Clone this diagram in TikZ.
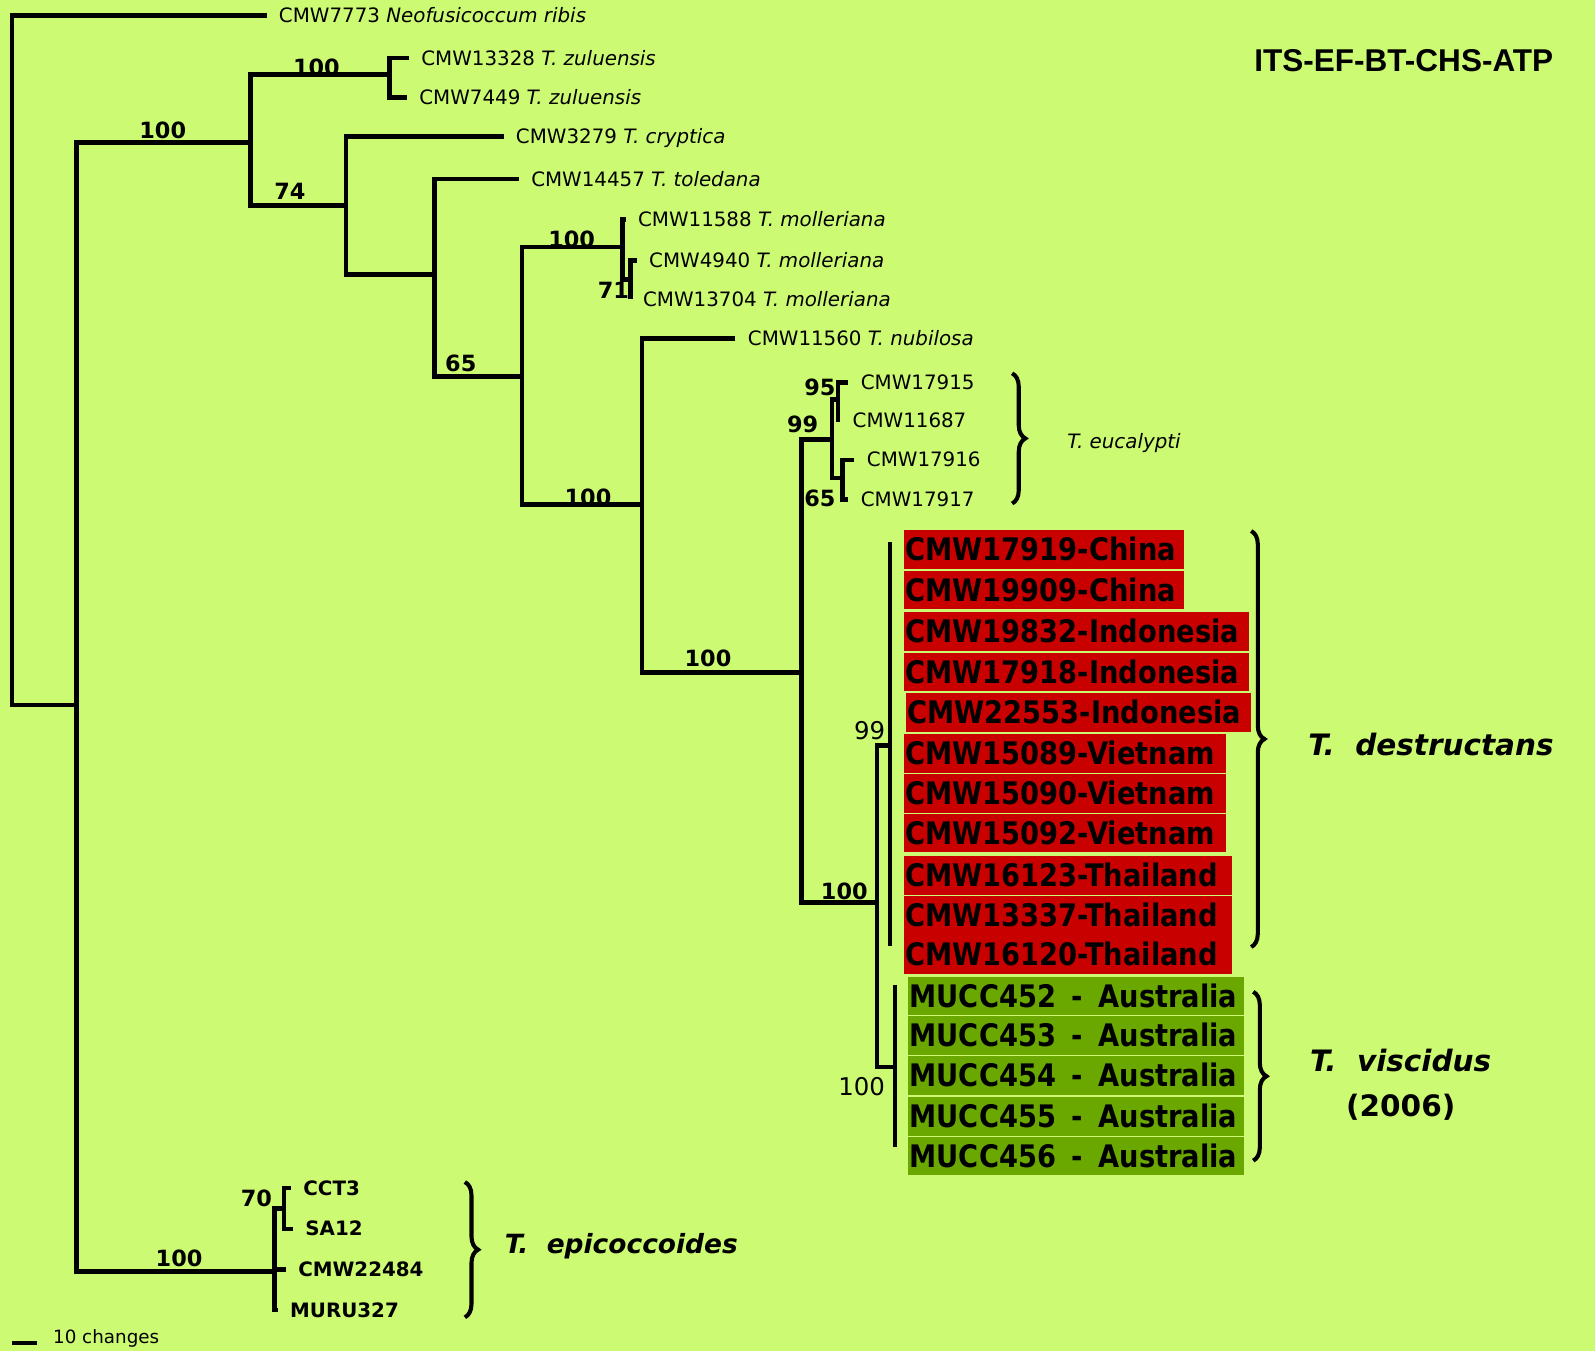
\documentclass[tikz,border=0pt]{standalone}
\usepackage{fontspec}
\setmainfont{DejaVu Sans}
\newfontfamily\ttlfont{Liberation Sans}
\newfontfamily\boxfamily[FakeStretch=0.88]{DejaVu Sans}
\usetikzlibrary{decorations.pathreplacing}
\definecolor{bgGreen}{RGB}{205,250,115}
\definecolor{destRed}{RGB}{200,0,0}
\definecolor{viscGreen}{RGB}{106,168,0}
\newcommand{\leaffont}{\fontsize{19.5}{20}\selectfont}
\newcommand{\boxfont}{\boxfamily\fontsize{30.5}{31}\selectfont\bfseries}

\begin{document}
\begin{tikzpicture}[x=1pt, y=-1pt, line width=4.5pt,
  leaf/.style={anchor=west, inner xsep=10pt, inner ysep=0pt, font=\leaffont, text height=14pt, text depth=0pt},
  epileaf/.style={leaf, font=\leaffont\bfseries},
  bs/.style={inner sep=0pt, font=\fontsize{22}{22}\selectfont\bfseries},
  bsthin/.style={inner sep=0pt, font=\fontsize{24}{24}\selectfont},
  desbox/.style={anchor=west, fill=destRed, inner xsep=2pt, inner ysep=0pt, minimum height=38pt, text width=#1, align=left, font=\boxfont, text height=22pt, text depth=0pt},
  visbox/.style={desbox=#1, fill=viscGreen},
  brc/.style={decorate, decoration={brace, amplitude=13pt}, line width=4pt},
  taxon/.style={anchor=west, inner sep=0pt, font=\fontsize{29}{44}\selectfont\bfseries\itshape}]
\useasboundingbox (0,0) rectangle (1568,1328);
\fill[bgGreen] (0,0) rectangle (1568,1328);

% internal nodes of the tree
\coordinate (root) at (12,693);
\coordinate (ing) at (75,693);
\coordinate (nA) at (246,140);
\coordinate (nZ) at (383,73);
\coordinate (n74) at (340,202);
\coordinate (n2) at (427,270);
\coordinate (n65) at (513,370);
\coordinate (nMol) at (612,243);
\coordinate (n71) at (620,275);
\coordinate (nB) at (631,496);
\coordinate (nC) at (788,661);
\coordinate (n99) at (818,432);
\coordinate (n95) at (824,393);
\coordinate (n65e) at (828,470);
\coordinate (nD) at (862,887);
\coordinate (nDes) at (875,733);
\coordinate (desTop) at (875,533);
\coordinate (desBot) at (875,930);
\coordinate (nVis) at (880,1049);
\coordinate (visTop) at (880,968);
\coordinate (visBot) at (880,1128);
\coordinate (nEpi) at (270,1250);
\coordinate (n70) at (279,1188);

% leaves
\node[leaf] (og) at (262,15) {CMW7773 \textit{Neofusicoccum ribis}};
\node[leaf] (zul1) at (402,57) {CMW13328 \textit{T. zuluensis}};
\node[leaf] (zul2) at (400,96) {CMW7449 \textit{T. zuluensis}};
\node[leaf] (cry) at (495,134) {CMW3279 \textit{T. cryptica}};
\node[leaf] (tol) at (510,176) {CMW14457 \textit{T. toledana}};
\node[leaf] (mol1) at (615,216) {CMW11588 \textit{T. molleriana}};
\node[leaf] (mol2) at (626,256) {CMW4940 \textit{T. molleriana}};
\node[leaf] (mol3) at (620,294) {CMW13704 \textit{T. molleriana}};
\node[leaf] (nub) at (723,333) {CMW11560 \textit{T. nubilosa}};
\node[leaf] (euc1) at (834,376) {CMW17915};
\node[leaf] (euc2) at (826,413) {CMW11687};
\node[leaf] (euc3) at (840,452) {CMW17916};
\node[leaf] (euc4) at (834,491) {CMW17917};
\node[epileaf] (epi1) at (286,1168) {CCT3};
\node[epileaf] (epi2) at (288,1208) {SA12};
\node[epileaf] (epi3) at (281,1248) {CMW22484};
\node[epileaf] (epi4) at (273,1288) {MURU327};

% branches
\draw (og.west) -| (root) -- (ing);
\draw (nA) -| (ing) |- (nEpi);
\draw (nZ) -| (nA) |- (n74);
\draw (zul1.west) -| (nZ) |- (zul2.west);
\draw (cry.west) -| (n74) |- (n2);
\draw (tol.west) -| (n2) |- (n65);
\draw (nMol) -| (n65) |- (nB);
\draw (mol1.west) -| (nMol) |- (n71);
\draw (mol2.west) -| (n71) |- (mol3.west);
\draw (nub.west) -| (nB) |- (nC);
\draw (n99) -| (nC) |- (nD);
\draw (n95) -| (n99) |- (n65e);
\draw (euc1.west) -| (n95) |- (euc2.west);
\draw (euc3.west) -| (n65e) |- (euc4.west);
\draw (nDes) -| (nD) |- (nVis);
\draw[line width=4pt] (desTop) -- (desBot);
\draw[line width=4pt] (visTop) -- (visBot);
\draw (n70) -| (nEpi) |- (epi4.west);
\draw (nEpi) |- (epi3.west);
\draw (epi1.west) -| (n70) |- (epi2.west);

% bootstrap values
\node[bs] (bs1) at (160,128) {100};
\node[bs] (bs2) at (311,66) {100};
\node[bs] (bs3) at (285,188) {74};
\node[bs] (bs4) at (453,357) {65};
\node[bs] (bs5) at (562,235) {100};
\node[bs] (bs6) at (603,285) {71};
\node[bs] (bs7) at (578,489) {100};
\node[bs] (bs8) at (696,647) {100};
\node[bs] (bs9) at (789,417) {99};
\node[bs] (bs10) at (806,381) {95};
\node[bs] (bs11) at (806,490) {65};
\node[bs] (bs12) at (830,876) {100};
\node[bsthin] (bs13) at (855,718) {99};
\node[bsthin] (bs14) at (847,1068) {100};
\node[bs] (bs15) at (176,1237) {100};
\node[bs] (bs16) at (252,1178) {70};

% T. destructans isolates
\node[desbox=272pt] (des1) at (886,540) {CMW17919-China};
\node[desbox=272pt] (des2) at (886,580) {CMW19909-China};
\node[desbox=336pt] (des3) at (886,621) {CMW19832-Indonesia};
\node[desbox=336pt] (des4) at (886,660.5) {CMW17918-Indonesia};
\node[desbox=336pt] (des5) at (888,700.5) {CMW22553-Indonesia};
\node[desbox=313pt] (des6) at (886,740.5) {CMW15089-Vietnam};
\node[desbox=313pt] (des7) at (886,780) {CMW15090-Vietnam};
\node[desbox=313pt] (des8) at (886,819) {CMW15092-Vietnam};
\node[desbox=319pt] (des9) at (886,860.5) {CMW16123-Thailand};
\node[desbox=319pt] (des10) at (886,900) {CMW13337-Thailand};
\node[desbox=319pt] (des11) at (886,938.5) {CMW16120-Thailand};
% T. viscidus isolates
\node[visbox=327pt] (vis1) at (890,979) {MUCC452\enspace-\enspace Australia};
\node[visbox=327pt] (vis2) at (890,1018) {MUCC453\enspace-\enspace Australia};
\node[visbox=327pt] (vis3) at (890,1057.5) {MUCC454\enspace-\enspace Australia};
\node[visbox=327pt] (vis4) at (890,1097.5) {MUCC455\enspace-\enspace Australia};
\node[visbox=327pt] (vis5) at (890,1136.5) {MUCC456\enspace-\enspace Australia};

% braces and species names
\draw[brc] (995,367) -- (995,495);
\draw[brc] (1230,522) -- (1230,931);
\draw[brc] (1232,975) -- (1232,1141);
\draw[brc] (457,1162) -- (457,1295);
\node[anchor=west, inner sep=0pt, font=\leaffont\itshape] (eucLbl) at (1047,436) {T. eucalypti};
\node[taxon] (desLbl) at (1284,732) {T.\ \ destructans};
\node[taxon, anchor=center, align=center] (visLbl) at (1377,1066) {T.\ \ viscidus\\\upshape(2006)};
\node[taxon, font=\fontsize{26}{26}\selectfont\bfseries\itshape] (epiLbl) at (494,1225) {T.\ \ epicoccoides};

\node[font=\ttlfont\bfseries\fontsize{31}{31}\selectfont] (ttl) at (1380,60) {ITS-EF-BT-CHS-ATP};

% scale bar
\draw[line width=4pt] (12,1320) -- (36,1320);
\node[anchor=west, inner sep=0pt, font=\fontsize{18}{18}\selectfont] (sclLbl) at (50,1316) {10 changes};
\end{tikzpicture}
\end{document}
